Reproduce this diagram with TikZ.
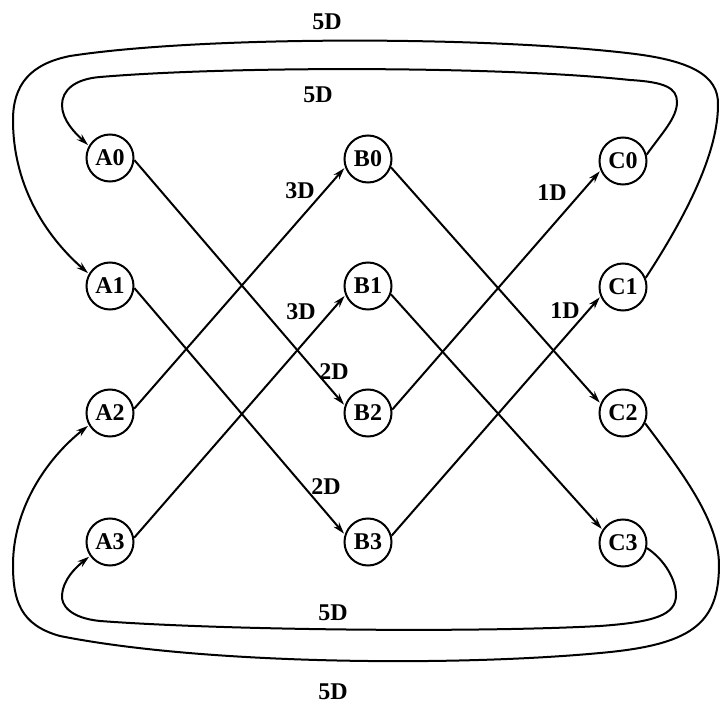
\documentclass[tikz,border=0pt]{standalone}
\usepackage{fontspec}
\setmainfont{Liberation Serif}
\usetikzlibrary{arrows.meta}
\begin{document}
\begin{tikzpicture}[x=0.5pt,y=-0.5pt,
  stage/.style={circle,draw,line width=1pt,minimum size=23.5pt,inner sep=0pt,
    font=\fontsize{12}{12}\selectfont\bfseries},
  edge/.style={line width=1pt,-{Stealth[length=6pt,width=3.6pt]},shorten >=0.5pt},
  lbl/.style={font=\fontsize{12}{12}\selectfont\bfseries,inner sep=0pt}]
\useasboundingbox (0,0) rectangle (720,707);

% stages
\node[stage] (A0) at (110,158) {A0};
\node[stage] (A1) at (110,286) {A1};
\node[stage] (A2) at (110,413) {A2};
\node[stage] (A3) at (110,542) {A3};
\node[stage] (B0) at (368,159) {B0};
\node[stage] (B1) at (368,286) {B1};
\node[stage] (B2) at (368,413) {B2};
\node[stage] (B3) at (368,542) {B3};
\node[stage] (C0) at (623,161) {C0};
\node[stage] (C1) at (623,287) {C1};
\node[stage] (C2) at (623,413) {C2};
\node[stage] (C3) at (623,543) {C3};

% A -> B
\draw[edge] (A0.-5) -- (B2.162);
\draw[edge] (A1.-5) -- (B3.162);
\draw[edge] (A2.10) -- (B0.200);
\draw[edge] (A3.10) -- (B1.202);
% B -> C
\draw[edge] (B0.-20) -- (C2.157);
\draw[edge] (B1.-20) -- (C3.147);
\draw[edge] (B2.8) -- (C0.203);
\draw[edge] (B3.15) -- (C1.203);

% C -> A feedback loops
\draw[edge] (C0.15) .. controls (662,133) and (677,118) .. (677,102)
  .. controls (677,88) and (665,82) .. (630,80)
  .. controls (500,66) and (230,66) .. (100,77)
  .. controls (75,79) and (62,90) .. (62,105)
  .. controls (62,120) and (75,133) .. (A0.150);
\draw[edge] (C1.22) .. controls (690,210) and (718,150) .. (718,105)
  .. controls (719,75) and (690,60) .. (627,53)
  .. controls (480,36) and (200,36) .. (70,56)
  .. controls (30,64) and (13,85) .. (13,120)
  .. controls (13,190) and (50,240) .. (A1.150);
\draw[edge] (C2.-25) .. controls (680,470) and (719,520) .. (719,565)
  .. controls (719,625) and (690,645) .. (600,653)
  .. controls (450,667) and (200,664) .. (60,636)
  .. controls (20,625) and (13,600) .. (13,565)
  .. controls (13,510) and (45,460) .. (A2.210);
\draw[edge] (C3.-12) .. controls (665,560) and (676,580) .. (676,595)
  .. controls (676,615) and (655,622) .. (600,626)
  .. controls (470,633) and (220,630) .. (100,621)
  .. controls (70,618) and (61,605) .. (62,595)
  .. controls (63,580) and (75,568) .. (A3.215);

% delays
\node[lbl] (d30) at (300,191) {3D};
\node[lbl] (d31) at (301,312) {3D};
\node[lbl] (d22) at (334,372) {2D};
\node[lbl] (d23) at (326,487) {2D};
\node[lbl] (d10) at (552,193) {1D};
\node[lbl] (d11) at (565,311) {1D};
\node[lbl] (d5a) at (327,22) {5D};
\node[lbl] (d5b) at (318,95) {5D};
\node[lbl] (d5c) at (333,613) {5D};
\node[lbl] (d5d) at (333,692) {5D};
\end{tikzpicture}
\end{document}
